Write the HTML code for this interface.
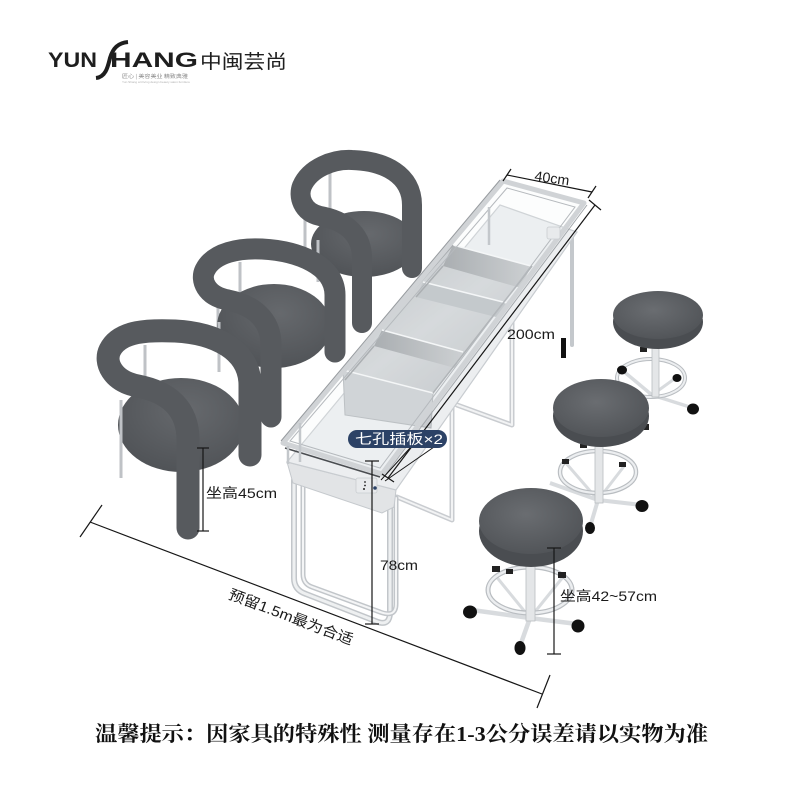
<!DOCTYPE html>
<html><head><meta charset="utf-8"><style>
html,body{margin:0;padding:0;background:#fff;}
svg{display:block;}
</style></head><body>
<svg width="800" height="800" viewBox="0 0 800 800" xmlns="http://www.w3.org/2000/svg" font-family="'Liberation Sans','Noto Sans CJK SC',sans-serif">
<defs>
<radialGradient id="seat" cx="0.45" cy="0.4" r="0.65">
<stop offset="0" stop-color="#6a6d71"/><stop offset="1" stop-color="#505357"/>
</radialGradient>
<radialGradient id="cseat" cx="0.55" cy="0.35" r="0.7">
<stop offset="0" stop-color="#66696d"/><stop offset="1" stop-color="#4f5256"/>
</radialGradient>
<linearGradient id="tray" x1="0" y1="0" x2="1" y2="1">
<stop offset="0" stop-color="#b3b7bb"/><stop offset="0.5" stop-color="#d0d3d6"/><stop offset="1" stop-color="#b6babe"/>
</linearGradient>
<linearGradient id="wall" x1="0" y1="0" x2="1" y2="0">
<stop offset="0" stop-color="#999da1"/><stop offset="1" stop-color="#c4c7ca"/>
</linearGradient>
</defs>
<rect width="800" height="800" fill="#fff"/>

<!-- LOGO -->
<text x="48" y="67" font-size="21" font-weight="bold" fill="#1e1e1e" textLength="49" lengthAdjust="spacingAndGlyphs">YUN</text>
<path d="M96,78 C106,77 108,66 110,58 C113,48 118,43 128,42" stroke="#1e1e1e" stroke-width="4" fill="none"/>
<text x="110" y="67" font-size="21" font-weight="bold" fill="#1e1e1e" textLength="88" lengthAdjust="spacingAndGlyphs">HANG</text>
<text x="200" y="68" font-size="19" fill="#1e1e1e" font-family="'Noto Sans CJK SC',sans-serif" textLength="87" lengthAdjust="spacingAndGlyphs">中闽芸尚</text>
<text x="122" y="78" font-size="5" fill="#8a8a8a" font-family="'Noto Sans CJK SC',sans-serif" textLength="66" lengthAdjust="spacingAndGlyphs">匠心 | 美容美业 精致典雅</text>
<text x="122" y="83" font-size="3" fill="#b0b0b0" textLength="68" lengthAdjust="spacingAndGlyphs">Yun Shang art living design beauty salon furniture</text>

<!-- CHAIR 3 -->
<line x1="305" y1="180" x2="305" y2="250" stroke="#bfc2c6" stroke-width="3"/>
<line x1="330" y1="170" x2="330" y2="210" stroke="#bfc2c6" stroke-width="3"/>
<ellipse cx="364" cy="244" rx="53" ry="33" fill="url(#cseat)"/>
<line x1="318" y1="240" x2="318" y2="282" stroke="#bfc2c6" stroke-width="3"/>
<path d="M362,323 L362,258 C362,232 342,220 320,216 C302,212 298,196 302,186 C310,168 333,159 352,160 C385,161 412,175 412,205 L412,268" stroke="#575a5e" stroke-width="20" fill="none" stroke-linecap="round" stroke-linejoin="round"/>

<!-- CHAIR 2 -->
<line x1="218" y1="287" x2="218" y2="330" stroke="#bfc2c6" stroke-width="3"/>
<line x1="240" y1="262" x2="240" y2="300" stroke="#bfc2c6" stroke-width="3"/>
<ellipse cx="274" cy="326" rx="57" ry="42" fill="url(#cseat)"/>
<line x1="219" y1="322" x2="219" y2="372" stroke="#bfc2c6" stroke-width="3"/>
<path d="M271,417 L271,345 C271,318 252,305 228,300 C206,296 200,280 205,270 C214,252 240,248 262,249 C298,251 335,265 335,295 L335,352" stroke="#575a5e" stroke-width="21" fill="none" stroke-linecap="round" stroke-linejoin="round"/>

<!-- CHAIR 1 -->
<line x1="145" y1="345" x2="145" y2="395" stroke="#bfc2c6" stroke-width="3"/>
<ellipse cx="181" cy="425" rx="63" ry="47" fill="url(#cseat)"/>
<line x1="121" y1="400" x2="121" y2="478" stroke="#bfc2c6" stroke-width="3"/>
<path d="M188,528 L188,440 C188,408 168,392 138,386 C112,381 104,362 110,350 C120,330 150,330 175,331 C215,333 250,350 250,385 L250,455" stroke="#575a5e" stroke-width="23" fill="none" stroke-linecap="round" stroke-linejoin="round"/>

<!-- TABLE LEGS -->
<g fill="none" stroke-linecap="round" stroke-linejoin="round">
<path d="M572,235 L572,345" stroke="#c4c8cc" stroke-width="4"/>
<rect x="561" y="338" width="5" height="20" fill="#111" stroke="none"/>
<path d="M512,310 L512,425 L457,405" stroke="#c9ccd0" stroke-width="5"/>
<path d="M512,310 L512,425 L457,405" stroke="#f2f3f4" stroke-width="2"/>
<path d="M452,383 L452,520 L397,497" stroke="#c9ccd0" stroke-width="5"/>
<path d="M452,383 L452,520 L397,497" stroke="#f2f3f4" stroke-width="2"/>
<path d="M294,480 L294,578 Q294,590 306,594 L378,622 Q390,626 390,612 L390,500" stroke="#c2c6ca" stroke-width="6"/>
<path d="M294,480 L294,578 Q294,590 306,594 L378,622 Q390,626 390,612 L390,500" stroke="#eef0f1" stroke-width="3"/>
<path d="M303,482 L303,574 Q303,584 312,587 L380,612 Q396,618 396,604 L396,498" stroke="#c2c6ca" stroke-width="5"/>
<path d="M303,482 L303,574 Q303,584 312,587 L380,612 Q396,618 396,604 L396,498" stroke="#f4f5f6" stroke-width="2"/>
</g>

<!-- SHELF -->
<polygon points="287,462 396,490 394,507 382,513 293,483" fill="#e2e4e6" stroke="#c5c9cd" stroke-width="1"/>
<polygon points="287,462 396,490 577,232 500,205" fill="#eceef0" stroke="#c8ccd0" stroke-width="1.2"/>

<!-- TRAYS -->
<polygon points="453,245 532,266 433,393 343,370" fill="url(#tray)"/>
<polygon points="343,370 433,393 431,428 345,415" fill="#c9ccd0" stroke="#b0b4b8" stroke-width="1"/>
<polygon points="453,245 531,266 521,288 443,266" fill="url(#wall)"/>
<polygon points="423,282 507,303 500,318 416,297" fill="#babec2"/>
<polygon points="382,330 463,352 455,368 374,346" fill="url(#wall)"/>
<g stroke-width="1.5" fill="none">
<line x1="453" y1="245" x2="531" y2="266" stroke="#f6f7f8"/>
<line x1="423" y1="282" x2="507" y2="303" stroke="#f6f7f8"/>
<line x1="382" y1="330" x2="463" y2="352" stroke="#f6f7f8"/>
<line x1="343" y1="370" x2="433" y2="393" stroke="#f6f7f8"/>
<line x1="453" y1="245" x2="343" y2="370" stroke="#94989c"/>
<line x1="443" y1="266" x2="416" y2="297" stroke="#9a9ea2"/>
<line x1="374" y1="346" x2="345" y2="380" stroke="#9a9ea2"/>
<line x1="532" y1="266" x2="433" y2="393" stroke="#a0a4a8"/>
</g>

<!-- GLASS RAIL -->
<polygon points="283,443 382,474 584,203 503,181" fill="rgba(240,243,245,0.2)" stroke="#d0d3d6" stroke-width="5" stroke-linejoin="round"/>
<polygon points="290,441 380,468 575,207 507,188" fill="none" stroke="#b5b9bd" stroke-width="1"/>
<line x1="285" y1="448" x2="380" y2="477" stroke="#4a4d51" stroke-width="1.6"/>
<line x1="281" y1="441" x2="500" y2="180" stroke="#969a9e" stroke-width="1"/>
<line x1="386" y1="474" x2="587" y2="205" stroke="#a3a7ab" stroke-width="1"/>
<g stroke="#c3c7cb" stroke-width="2.5">
<line x1="300" y1="423" x2="300" y2="462"/>
<line x1="489" y1="207" x2="489" y2="245"/>
<line x1="288" y1="446" x2="288" y2="464"/>
</g>

<!-- SOCKETS -->
<rect x="356" y="478" width="21" height="15" rx="2" fill="#e8eaec" stroke="#c9cdd0" stroke-width="0.8"/>
<circle cx="365" cy="482" r="0.9" fill="#222"/>
<circle cx="365" cy="485.5" r="0.9" fill="#222"/>
<circle cx="364" cy="489" r="1" fill="#222"/>
<circle cx="375" cy="488" r="1.8" fill="#2c4266"/>
<rect x="547" y="227" width="13" height="12" rx="2" fill="#e8eaec" stroke="#c9cdd0" stroke-width="0.8"/>

<!-- STOOL 3 -->
<g>
<line x1="652" y1="395" x2="693" y2="408" stroke="#d8dbde" stroke-width="3.5"/>
<line x1="652" y1="395" x2="622" y2="370" stroke="#d8dbde" stroke-width="3.5"/>
<line x1="652" y1="395" x2="677" y2="377" stroke="#d8dbde" stroke-width="3"/>
<line x1="652" y1="395" x2="615" y2="412" stroke="#d8dbde" stroke-width="3.5"/>
<ellipse cx="651" cy="378" rx="34" ry="19" fill="none" stroke="#b9bdc1" stroke-width="4"/>
<ellipse cx="651" cy="378" rx="34" ry="19" fill="none" stroke="#eceef0" stroke-width="2"/>
<rect x="652" y="345" width="7" height="52" fill="#e4e6e8" stroke="#b9bdc1" stroke-width="0.8"/>
<ellipse cx="693" cy="409" rx="6" ry="5.5" fill="#111"/>
<ellipse cx="622" cy="370" rx="5" ry="4.5" fill="#111"/>
<ellipse cx="677" cy="378" rx="4.5" ry="4" fill="#111"/>
<rect x="640" y="347" width="7" height="5" fill="#222"/>
<ellipse cx="658" cy="322" rx="45" ry="27" fill="#4a4d51"/>
<ellipse cx="658" cy="315" rx="45" ry="24" fill="url(#seat)"/>
</g>

<!-- STOOL 2 -->
<g>
<line x1="598" y1="500" x2="642" y2="505" stroke="#d8dbde" stroke-width="4"/>
<line x1="598" y1="500" x2="590" y2="527" stroke="#d8dbde" stroke-width="4"/>
<line x1="598" y1="500" x2="550" y2="483" stroke="#d8dbde" stroke-width="4"/>
<line x1="598" y1="500" x2="565" y2="462" stroke="#d8dbde" stroke-width="3"/>
<line x1="598" y1="500" x2="625" y2="465" stroke="#d8dbde" stroke-width="3"/>
<ellipse cx="598" cy="472" rx="38" ry="21" fill="none" stroke="#b9bdc1" stroke-width="4.5"/>
<ellipse cx="598" cy="472" rx="38" ry="21" fill="none" stroke="#eceef0" stroke-width="2.2"/>
<rect x="595" y="445" width="8" height="58" fill="#e4e6e8" stroke="#b9bdc1" stroke-width="0.8"/>
<ellipse cx="642" cy="506" rx="6.5" ry="6" fill="#111"/>
<ellipse cx="590" cy="528" rx="5" ry="6" fill="#111"/>
<rect x="562" y="459" width="7" height="5" fill="#222"/>
<rect x="619" y="462" width="7" height="5" fill="#222"/>
<rect x="644" y="424" width="5" height="6" fill="#222"/>
<rect x="580" y="444" width="7" height="4" fill="#222"/>
<ellipse cx="601" cy="416" rx="48" ry="31" fill="#4a4d51"/>
<ellipse cx="601" cy="408" rx="48" ry="29" fill="url(#seat)"/>
</g>

<!-- STOOL 1 -->
<g>
<line x1="530" y1="618" x2="472" y2="610" stroke="#d8dbde" stroke-width="4.5"/>
<line x1="530" y1="618" x2="520" y2="646" stroke="#d8dbde" stroke-width="4.5"/>
<line x1="530" y1="618" x2="577" y2="624" stroke="#d8dbde" stroke-width="4.5"/>
<line x1="530" y1="618" x2="495" y2="575" stroke="#d8dbde" stroke-width="3"/>
<line x1="530" y1="618" x2="563" y2="577" stroke="#d8dbde" stroke-width="3"/>
<ellipse cx="530" cy="590" rx="42" ry="23" fill="none" stroke="#b9bdc1" stroke-width="5"/>
<ellipse cx="530" cy="590" rx="42" ry="23" fill="none" stroke="#eceef0" stroke-width="2.5"/>
<rect x="526" y="565" width="9" height="56" fill="#e4e6e8" stroke="#b9bdc1" stroke-width="0.8"/>
<ellipse cx="470" cy="612" rx="7" ry="6.5" fill="#111"/>
<ellipse cx="520" cy="648" rx="5.5" ry="7" fill="#111"/>
<ellipse cx="578" cy="626" rx="6.5" ry="6.5" fill="#111"/>
<rect x="492" y="566" width="8" height="6" fill="#222"/>
<rect x="506" y="569" width="7" height="5" fill="#222"/>
<rect x="558" y="572" width="8" height="6" fill="#222"/>
<ellipse cx="531" cy="531" rx="52" ry="36" fill="#4a4d51"/>
<ellipse cx="531" cy="521" rx="52" ry="33" fill="url(#seat)"/>
</g>

<!-- DIMENSIONS -->
<g stroke="#161616" stroke-width="1.2" fill="none">
<line x1="507" y1="175" x2="592" y2="192"/>
<line x1="503" y1="181" x2="511" y2="169"/>
<line x1="588" y1="198" x2="596" y2="186"/>
<line x1="595" y1="205" x2="388" y2="478"/>
<line x1="589" y1="200" x2="601" y2="210"/>
<line x1="382" y1="474" x2="394" y2="482"/>
<line x1="203" y1="448" x2="203" y2="531"/>
<line x1="197" y1="448" x2="209" y2="448"/>
<line x1="197" y1="531" x2="209" y2="531"/>
<line x1="372" y1="461" x2="372" y2="624"/>
<line x1="365" y1="461" x2="379" y2="461"/>
<line x1="365" y1="624" x2="379" y2="624"/>
<line x1="554" y1="548" x2="554" y2="654"/>
<line x1="547" y1="548" x2="561" y2="548"/>
<line x1="547" y1="654" x2="561" y2="654"/>
<line x1="90" y1="522" x2="542" y2="694"/>
<line x1="80" y1="537" x2="102" y2="505"/>
<line x1="537" y1="708" x2="550" y2="675"/>
<line x1="410" y1="448" x2="381" y2="480" stroke-width="1"/>
<line x1="434" y1="447" x2="385" y2="481" stroke-width="1"/>
</g>
<g fill="#1a1a1a" font-size="14">
<text x="552" y="183" text-anchor="middle" transform="rotate(8 552 178)" textLength="35" lengthAdjust="spacingAndGlyphs">40cm</text>
<text x="507" y="339" textLength="48" lengthAdjust="spacingAndGlyphs">200cm</text>
<text x="206" y="498" textLength="71" lengthAdjust="spacingAndGlyphs">坐高45cm</text>
<text x="380" y="570" textLength="38" lengthAdjust="spacingAndGlyphs">78cm</text>
<text x="560" y="601" textLength="97" lengthAdjust="spacingAndGlyphs">坐高42~57cm</text>
<text x="291" y="622" font-size="14.5" text-anchor="middle" transform="rotate(20.8 291 617)" textLength="132" lengthAdjust="spacingAndGlyphs">预留1.5m最为合适</text>
</g>
<rect x="348" y="430" width="99" height="18" rx="9" fill="#2c4266"/>
<text x="355" y="444" font-size="14" fill="#fff" textLength="88" lengthAdjust="spacingAndGlyphs">七孔插板×2</text>

<!-- BOTTOM NOTE -->
<text x="95" y="741" font-size="21" font-weight="bold" fill="#111" style="font-family:'Liberation Serif','Noto Serif CJK SC',serif" textLength="613" lengthAdjust="spacingAndGlyphs">温馨提示：因家具的特殊性 测量存在1-3公分误差请以实物为准</text>
</svg>
</body></html>
